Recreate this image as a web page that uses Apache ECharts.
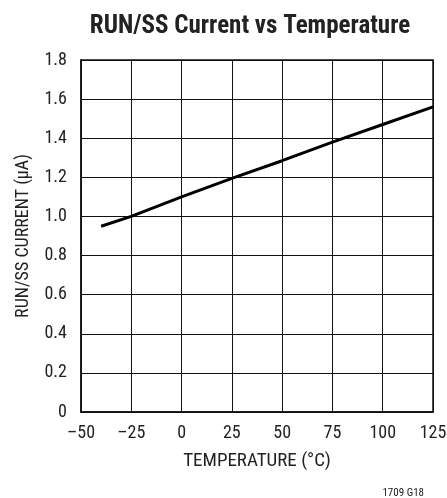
<!DOCTYPE html>
<html><head><meta charset="utf-8">
<script src="https://cdn.jsdelivr.net/npm/echarts@6/dist/echarts.min.js"></script>
<style>html,body{margin:0;padding:0;background:#fff}#c{width:447px;height:498px}</style>
</head><body><div id="c"></div>
<script>
const temps = [-40, -25, 0, 25, 50, 75, 100, 125];
const current = [0.95, 1.00, 1.10, 1.195, 1.285, 1.38, 1.47, 1.56];
const xTicks = [-50, -25, 0, 25, 50, 75, 100, 125];
const yTicks = [0, 0.2, 0.4, 0.6, 0.8, 1.0, 1.2, 1.4, 1.6, 1.8];
const F = '"Liberation Sans Narrow", "Roboto Condensed", "Liberation Sans", sans-serif';
const chart = echarts.init(document.getElementById('c'));
chart.setOption({
  animation: false,
  title: [{
    text: 'RUN/SS Current vs Temperature', left: 245, top: 9, textAlign: 'center',
    textStyle: {fontFamily: F, fontWeight: 'bold', fontSize: 25, color: '#222'}
  }, {
    text: '1709 G18', right: 18, top: 483,
    textStyle: {fontFamily: F, fontWeight: 'normal', fontSize: 11, color: '#222'}
  }],
  grid: {left: 81, top: 60, width: 352, height: 352, show: true, borderColor: '#111', borderWidth: 1.5,
    containLabel: false, outerBoundsMode: 'none'},
  xAxis: {
    type: 'value', min: -50, max: 125, interval: 25,
    name: 'TEMPERATURE (°C)', nameLocation: 'middle', nameGap: 40,
    nameTextStyle: {fontFamily: F, fontSize: 19, color: '#222'},
    axisLine: {show: true, onZero: false, lineStyle: {color: '#111', width: 1.5}},
    axisTick: {show: false},
    axisLabel: {fontFamily: F, fontSize: 18, color: '#222', margin: 12,
      formatter: v => xTicks.includes(v) ? (v < 0 ? '\u2013' + Math.abs(v) : String(v)) : ''},
    splitLine: {show: true, lineStyle: {color: '#111', width: 1}}
  },
  yAxis: {
    type: 'value', min: 0, max: 1.8, interval: 0.2,
    name: 'RUN/SS CURRENT (\u03bcA)', nameLocation: 'middle', nameGap: 49,
    nameTextStyle: {fontFamily: F, fontSize: 18, color: '#222'},
    axisLine: {show: true, onZero: false, lineStyle: {color: '#111', width: 1.5}},
    axisTick: {show: false},
    axisLabel: {fontFamily: F, fontSize: 18, color: '#222', margin: 14,
      formatter: v => { const t = yTicks.find(y => Math.abs(y - v) < 1e-6); return t === undefined ? '' : (t === 0 ? '0' : t.toFixed(1)); }},
    splitLine: {show: true, lineStyle: {color: '#111', width: 1}}
  },
  series: [{
    type: 'line', data: temps.map((t, i) => [t, current[i]]),
    showSymbol: false, lineStyle: {color: '#000', width: 3}
  }]
});
</script></body></html>
